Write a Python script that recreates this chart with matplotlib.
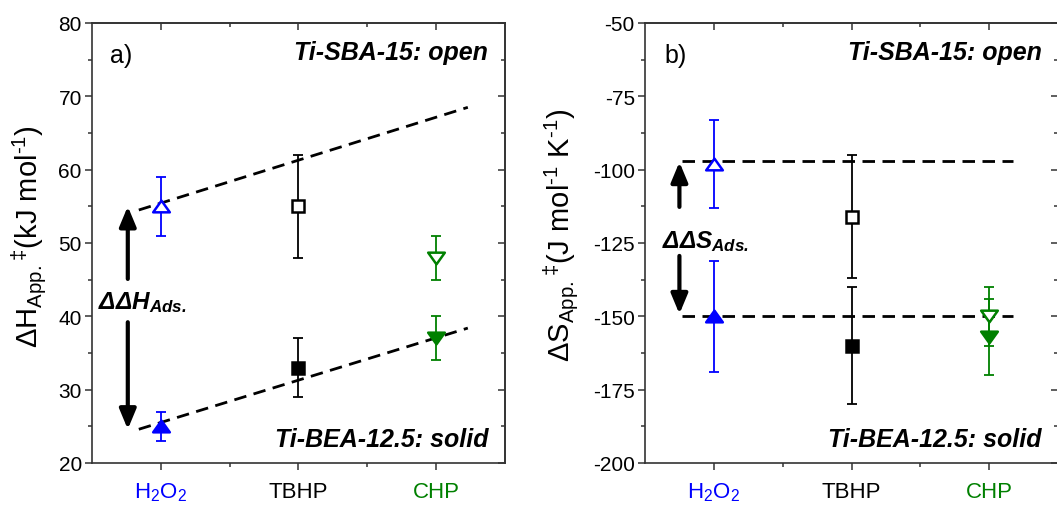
import numpy as np
import matplotlib.pyplot as plt
from matplotlib.path import Path
from matplotlib.ticker import MultipleLocator, FixedLocator

plt.rcParams['font.family'] = ['Liberation Sans', 'DejaVu Sans']
plt.rcParams['mathtext.default'] = 'regular'
plt.rcParams['axes.unicode_minus'] = False

# categories
cats = ['H$_2$O$_2$', 'TBHP', 'CHP']
cat_colors = ['#0000ff', 'black', '#008000']
xpos = [1, 2, 3]

# a) apparent enthalpy (kJ/mol)
dH_open = [55, 55, 48]
dH_open_err = [4, 7, 3]
dH_solid = [25, 33, 37]
dH_solid_err = [2, 4, 3]

# b) apparent entropy (J/mol/K)
dS_open = [-98, -116, -150]
dS_open_err = [15, 21, 10]
dS_solid = [-150, -160, -157]
dS_solid_err = [19, 20, 13]

# guide lines
dH_line_open = ([0.84, 3.23], [54.5, 68.5])
dH_line_solid = ([0.84, 3.23], [24.6, 38.4])
dS_line_open = ([0.77, 3.17], [-97, -97])
dS_line_solid = ([0.77, 3.17], [-150, -150])

# flattened triangles like the original markers
tri_up = Path([(-1, -0.7), (1, -0.7), (0, 0.7), (-1, -0.7)],
              [Path.MOVETO, Path.LINETO, Path.LINETO, Path.CLOSEPOLY])
tri_dn = Path([(-1, 0.7), (1, 0.7), (0, -0.7), (-1, 0.7)],
              [Path.MOVETO, Path.LINETO, Path.LINETO, Path.CLOSEPOLY])
marks = [tri_up, 's', tri_dn]
msizes = [12, 8, 12]

fig = plt.figure(figsize=(10.57, 5.10), dpi=100)
ax1 = fig.add_axes([92/1057, 46/510, 413/1057, 440/510])
ax2 = fig.add_axes([645/1057, 46/510, 413/1057, 440/510])

spine_c = '#333333'


def style_axes(ax, ylim, major, minor):
    ax.set_xlim(0.5, 3.5)
    ax.set_ylim(*ylim)
    ax.xaxis.set_major_locator(FixedLocator(xpos))
    ax.xaxis.set_minor_locator(FixedLocator([1.5, 2.5]))
    ax.yaxis.set_major_locator(MultipleLocator(major))
    ax.yaxis.set_minor_locator(MultipleLocator(minor))
    for s in ax.spines.values():
        s.set_color(spine_c)
        s.set_linewidth(1.2)
    ax.tick_params(which='major', direction='out', length=4.8, width=1.1,
                   color=spine_c, labelsize=15, pad=2.5)
    ax.tick_params(which='minor', direction='out', length=3, width=1.1,
                   color=spine_c)
    ax.tick_params(axis='x', which='major', labelsize=16, pad=8)
    ax.set_xticklabels(cats)
    for lab, c in zip(ax.get_xticklabels(), cat_colors):
        lab.set_color(c)
    # inward ticks on top and right
    top = ax.secondary_xaxis('top')
    top.xaxis.set_major_locator(FixedLocator(xpos))
    top.xaxis.set_minor_locator(FixedLocator([1.5, 2.5]))
    top.tick_params(which='both', direction='in', labeltop=False, color=spine_c, width=1.1)
    top.tick_params(which='major', length=4.8)
    top.tick_params(which='minor', length=3)
    top.spines['top'].set_color(spine_c)
    top.spines['top'].set_linewidth(1.2)
    right = ax.secondary_yaxis('right')
    right.yaxis.set_major_locator(MultipleLocator(major))
    right.yaxis.set_minor_locator(MultipleLocator(minor))
    right.tick_params(which='both', direction='in', labelright=False, color=spine_c, width=1.1)
    right.tick_params(which='major', length=4.8)
    right.tick_params(which='minor', length=3)
    right.spines['right'].set_color(spine_c)
    right.spines['right'].set_linewidth(1.2)


def draw_points(ax, yo, eo, ys, es):
    for i in range(3):
        c = cat_colors[i]
        for y, e in [(yo[i], eo[i]), (ys[i], es[i])]:
            ax.errorbar(xpos[i], y, yerr=e, fmt='none', ecolor=c,
                        elinewidth=1.3, capsize=3.3, capthick=1.3, zorder=3)
        ax.plot(xpos[i], yo[i], marker=marks[i], ms=msizes[i], mfc='white',
                mec=c, mew=1.8, ls='none', zorder=4)
        ax.plot(xpos[i], ys[i], marker=marks[i], ms=msizes[i], mfc=c,
                mec=c, mew=1.8, ls='none', zorder=4)


def arrow(ax, y0, y1, x):
    ax.annotate('', xy=(x, y1), xytext=(x, y0),
                arrowprops=dict(arrowstyle='-|>,head_length=0.6,head_width=0.25',
                                lw=3, color='black', shrinkA=0, shrinkB=0,
                                mutation_scale=20))


bi = dict(fontweight='bold', style='italic', va='baseline')

# panel a
style_axes(ax1, (20, 80), 10, 5)
draw_points(ax1, dH_open, dH_open_err, dH_solid, dH_solid_err)
for xs, ys in [dH_line_open, dH_line_solid]:
    ax1.plot(xs, ys, color='black', lw=2.0, dashes=(4.5, 2.7), zorder=2)
arrow(ax1, 45.1, 55.0, 0.76)
arrow(ax1, 39.2, 24.6, 0.76)
ax1.text(0.54, 41.1, 'ΔΔH$_{Ads.}$', fontsize=17.5, ha='left', **bi)
ax1.text(0.044, 0.911, 'a)', transform=ax1.transAxes, fontsize=18, ha='left', va='baseline')
ax1.text(0.959, 0.918, 'Ti-SBA-15: open', transform=ax1.transAxes, fontsize=18,
         ha='right', **bi)
ax1.text(0.959, 0.039, 'Ti-BEA-12.5: solid', transform=ax1.transAxes, fontsize=18,
         ha='right', **bi)
ax1.set_ylabel('ΔH$_{App.}$$^{‡}$(kJ mol$^{‐1}$)', fontsize=21)
ax1.yaxis.set_label_coords(-0.103, 0.516)

# panel b
style_axes(ax2, (-200, -50), 25, 12.5)
draw_points(ax2, dS_open, dS_open_err, dS_solid, dS_solid_err)
for xs, ys in [dS_line_open, dS_line_solid]:
    ax2.plot(xs, ys, color='black', lw=2.0, dashes=(4.5, 2.7), zorder=2)
arrow(ax2, -112.7, -97.4, 0.75)
arrow(ax2, -129.4, -149.2, 0.75)
ax2.text(0.62, -126.4, 'ΔΔS$_{Ads.}$', fontsize=17.5, ha='left', **bi)
ax2.text(0.048, 0.911, 'b)', transform=ax2.transAxes, fontsize=18, ha='left', va='baseline')
ax2.text(0.961, 0.918, 'Ti-SBA-15: open', transform=ax2.transAxes, fontsize=18,
         ha='right', **bi)
ax2.text(0.961, 0.039, 'Ti-BEA-12.5: solid', transform=ax2.transAxes, fontsize=18,
         ha='right', **bi)
ax2.set_ylabel('ΔS$_{App.}$$^{‡}$(J mol$^{‐1}$ K$^{‐1}$)', fontsize=21)
ax2.yaxis.set_label_coords(-0.154, 0.52)

fig.savefig('out.png', dpi=100)
